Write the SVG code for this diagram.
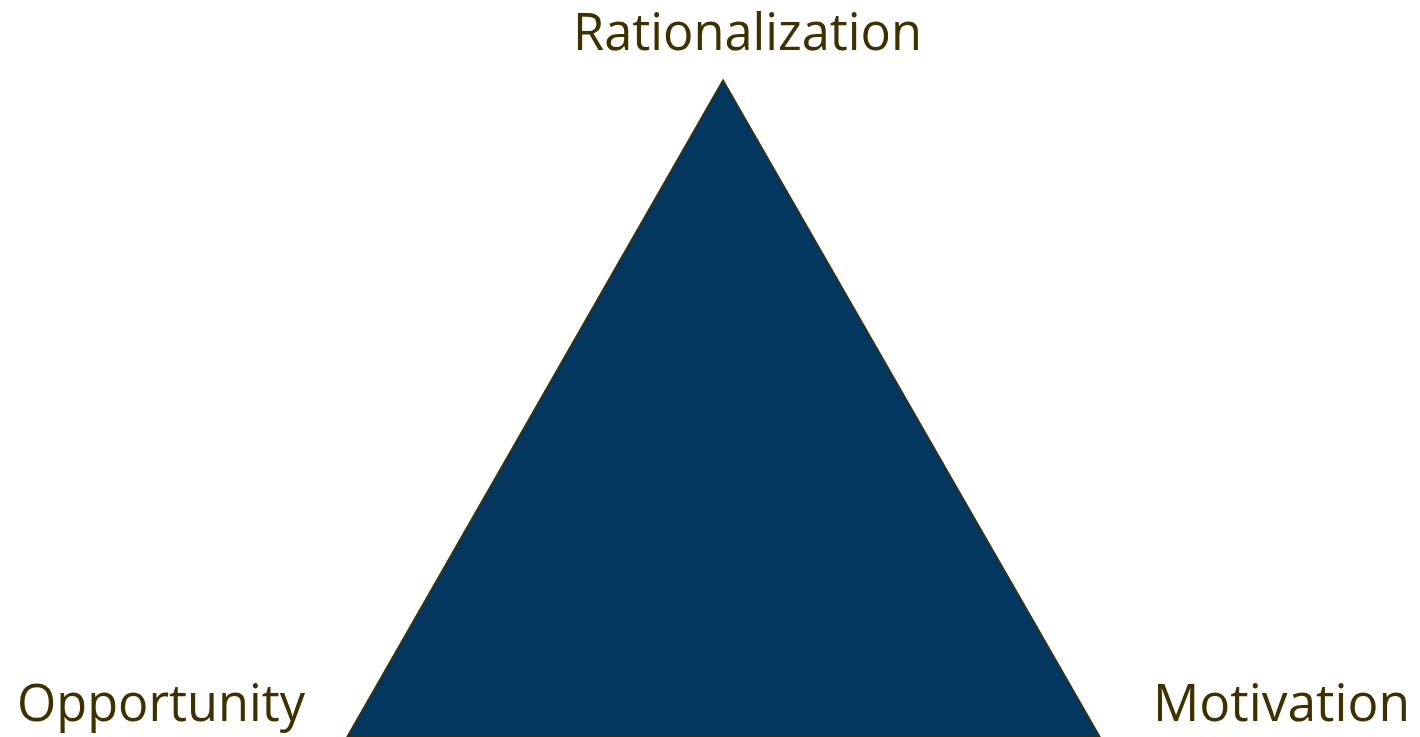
<svg xmlns="http://www.w3.org/2000/svg" width="1420" height="737" viewBox="0 0 1420 737">
<style>
.lbl{font-family:"Open Sans","Liberation Sans",sans-serif;font-size:51px;fill:#3F3000}
.tri{fill:#03375F;stroke:#3F3000;stroke-width:1.5}
</style>
<rect width="1420" height="737" fill="#FFFFFF"/>
<g id="triangle"><polygon class="tri" points="723,80 347,737 1100,737"/></g>
<g id="connectors"></g>
<g id="rationalization"><text class="lbl" x="573" y="50" textLength="349" lengthAdjust="spacingAndGlyphs">Rationalization</text></g>
<g id="opportunity"><text class="lbl" x="17" y="721" textLength="288" lengthAdjust="spacingAndGlyphs">Opportunity</text></g>
<g id="motivation"><text class="lbl" x="1153" y="721" textLength="257" lengthAdjust="spacingAndGlyphs">Motivation</text></g>
</svg>
